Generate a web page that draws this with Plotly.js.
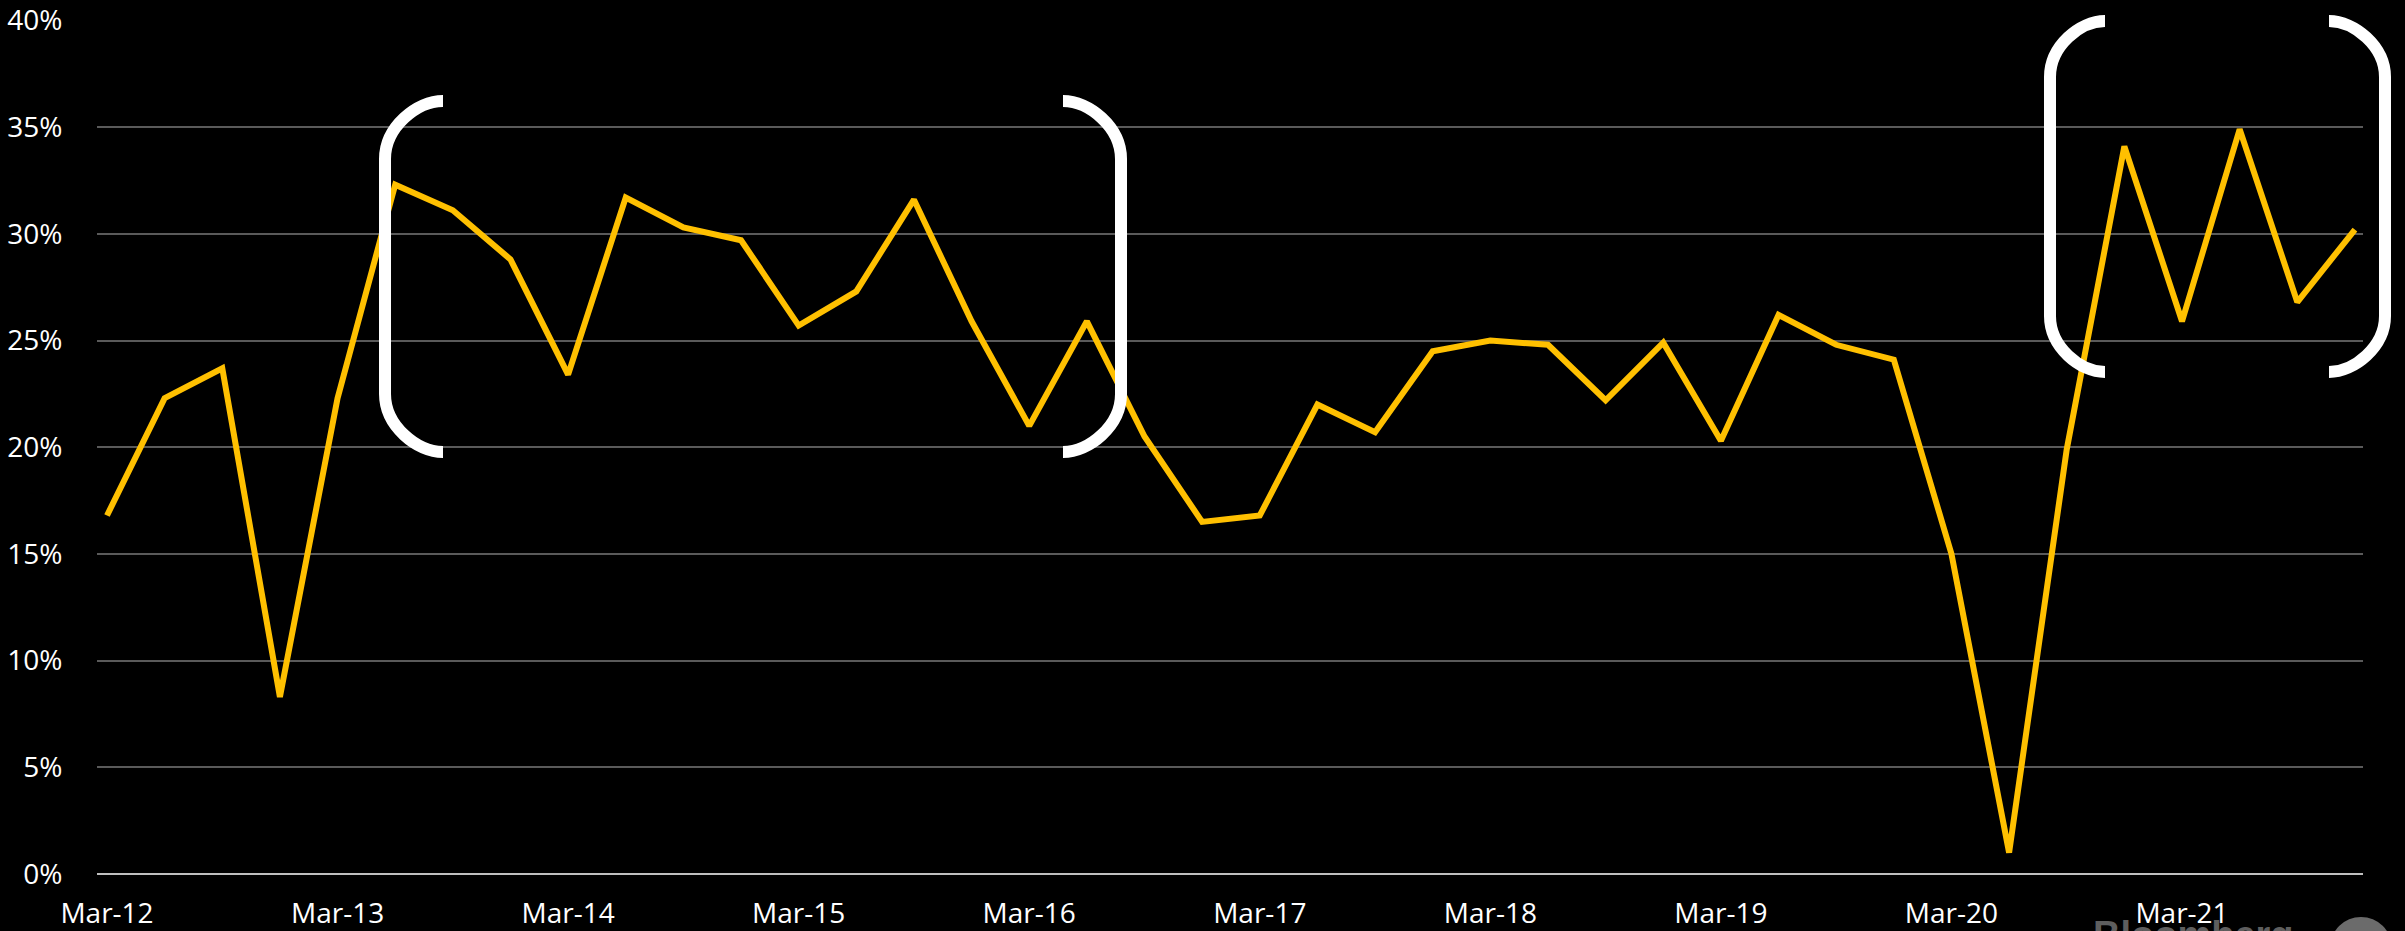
<!DOCTYPE html>
<html>
<head>
<meta charset="utf-8">
<script src="https://cdn.plot.ly/plotly-3.0.1.min.js"></script>
<style>
  html, body { margin: 0; padding: 0; background: #000; overflow: hidden; }
  #chart { width: 2405px; height: 931px; }
</style>
</head>
<body>
<div id="chart"></div>
<script>
// Quarterly categories (Mar-12 .. Dec-21)
const quarters = [
  'Mar-12','Jun-12','Sep-12','Dec-12',
  'Mar-13','Jun-13','Sep-13','Dec-13',
  'Mar-14','Jun-14','Sep-14','Dec-14',
  'Mar-15','Jun-15','Sep-15','Dec-15',
  'Mar-16','Jun-16','Sep-16','Dec-16',
  'Mar-17','Jun-17','Sep-17','Dec-17',
  'Mar-18','Jun-18','Sep-18','Dec-18',
  'Mar-19','Jun-19','Sep-19','Dec-19',
  'Mar-20','Jun-20','Sep-20','Dec-20',
  'Mar-21','Jun-21','Sep-21','Dec-21'
];
// Series values, percent
const values = [
  16.8, 22.3, 23.7, 8.3,
  22.3, 32.3, 31.1, 28.8,
  23.4, 31.7, 30.3, 29.7,
  25.7, 27.3, 31.6, 25.9,
  21.0, 25.9, 20.5, 16.5,
  16.8, 22.0, 20.7, 24.5,
  25.0, 24.8, 22.2, 24.9,
  20.3, 26.2, 24.8, 24.1,
  15.0, 1.0, 19.9, 34.1,
  25.9, 34.9, 26.8, 30.2
];
// Axis tick labels
const xTickLabels = ['Mar-12','Mar-13','Mar-14','Mar-15','Mar-16','Mar-17','Mar-18','Mar-19','Mar-20','Mar-21'];
const yTickVals = [0, 5, 10, 15, 20, 25, 30, 35, 40];
const yTickText = ['0%', '5%', '10%', '15%', '20%', '25%', '30%', '35%', '40%'];

// Layout geometry (pixels)
const W = 2405, H = 931;
const M = { l: 97, r: 42, t: 20, b: 57 };
const PW = W - M.l - M.r, PH = H - M.t - M.b;
const px = x => (x - M.l) / PW;
const py = y => (M.t + PH - y) / PH;

// Bracket drawn as path in paper coords
function bracket(xv, xEnd, yTop, yBot, r) {
  const k = 0.5523 * r;
  const dir = Math.sign(xEnd - xv);
  const P = (x, y) => px(x).toFixed(5) + ',' + py(y).toFixed(5);
  return 'M ' + P(xEnd, yTop) +
    ' C ' + P(xEnd - dir * (r - k), yTop) + ' ' + P(xv, yTop + r - k) + ' ' + P(xv, yTop + r) +
    ' L ' + P(xv, yBot - r) +
    ' C ' + P(xv, yBot - r + k) + ' ' + P(xEnd - dir * (r - k), yBot) + ' ' + P(xEnd, yBot);
}
function bracketShape(xv, xEnd, yTop, yBot, r) {
  return {
    type: 'path', xref: 'paper', yref: 'paper', layer: 'above',
    path: bracket(xv, xEnd, yTop, yBot, r),
    line: { color: '#ffffff', width: 12 }
  };
}

const trace = {
  type: 'scatter', mode: 'lines',
  x: quarters, y: values,
  line: { color: '#FFC000', width: 6, shape: 'linear' },
  hoverinfo: 'x+y'
};

const font = { family: 'Open Sans, sans-serif', size: 28, color: '#ffffff' };

const layout = {
  width: W, height: H,
  margin: M,
  paper_bgcolor: '#000000', plot_bgcolor: '#000000',
  showlegend: false,
  font: font,
  xaxis: {
    type: 'category',
    range: [-0.1735, 39.14],
    tickvals: xTickLabels,
    ticktext: xTickLabels,
    ticks: 'outside', ticklen: 14, tickcolor: 'rgba(0,0,0,0)',
    showgrid: false, zeroline: false, showline: false,
    tickfont: font
  },
  yaxis: {
    range: [-0.001, 40.02],
    tickmode: 'array',
    tickvals: yTickVals,
    ticktext: yTickText,
    ticks: 'outside', ticklen: 28, tickcolor: 'rgba(0,0,0,0)',
    showgrid: true, gridcolor: '#5a5a5a', gridwidth: 2,
    zeroline: true, zerolinecolor: '#bfbfbf', zerolinewidth: 2,
    showline: false,
    tickfont: font
  },
  shapes: [
    bracketShape(385, 443, 101, 452, 58),
    bracketShape(1121, 1063, 101, 452, 58),
    bracketShape(2050, 2105, 21, 372, 56),
    bracketShape(2385, 2329, 21, 372, 56),
    {
      type: 'circle', xref: 'paper', yref: 'paper', layer: 'below',
      x0: px(2330), x1: px(2392), y0: py(917), y1: py(979),
      fillcolor: '#6b6b6b', line: { width: 0 }
    }
  ],
  annotations: [
    {
      xref: 'paper', yref: 'paper',
      x: px(2091), y: py(912),
      xanchor: 'left', yanchor: 'top',
      text: 'Bloomberg', showarrow: false,
      font: { family: 'Liberation Sans, Arial, sans-serif', size: 38, color: '#5e5e5e', weight: 'bold' }
    }
  ]
};

Plotly.newPlot('chart', [trace], layout, { displayModeBar: false, staticPlot: true });
</script>
</body>
</html>
